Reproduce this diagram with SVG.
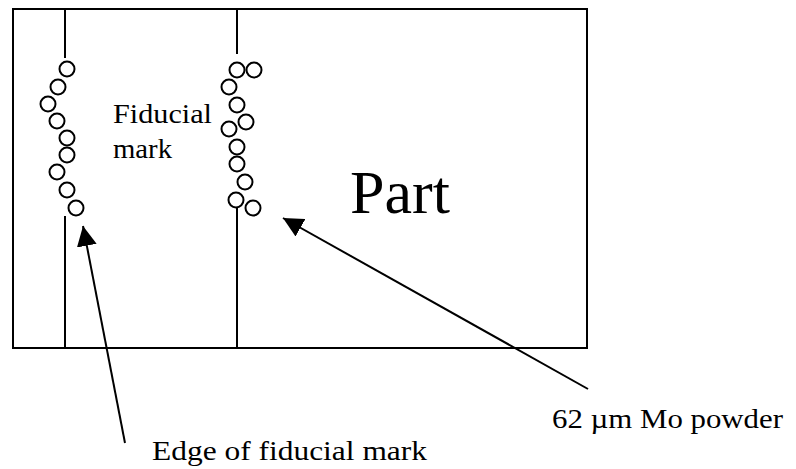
<svg xmlns="http://www.w3.org/2000/svg" width="796" height="469" viewBox="0 0 796 469">
<style>
.ln{stroke:#000;stroke-width:2;fill:none}
.p{stroke:#000;stroke-width:2;fill:#fff}
.t{font-family:"Liberation Serif","Times New Roman",serif;fill:#000}
</style>
<defs>
<marker id="ah" markerUnits="userSpaceOnUse" viewBox="0 -10 20 20" refX="20" refY="0" markerWidth="20" markerHeight="20" orient="auto">
<path d="M0,-10 L20,0 L0,10 z" fill="#000"/>
</marker>
</defs>
<rect width="796" height="469" fill="#fff"/>
<g id="part">
<rect class="ln" x="13" y="9" width="574" height="339"/>
<text class="t" x="350" y="213" font-size="62">Part</text>
</g>
<g id="fiducial-left">
<line class="ln" x1="65" y1="9" x2="65" y2="58"/>
<line class="ln" x1="65" y1="216" x2="65" y2="348"/>
<circle class="p" cx="67" cy="69" r="7.5"/>
<circle class="p" cx="58" cy="87" r="7.5"/>
<circle class="p" cx="48" cy="104" r="7.5"/>
<circle class="p" cx="57" cy="121" r="7.5"/>
<circle class="p" cx="67" cy="138" r="7.5"/>
<circle class="p" cx="67" cy="155" r="7.5"/>
<circle class="p" cx="57" cy="172" r="7.5"/>
<circle class="p" cx="67" cy="190" r="7.5"/>
<circle class="p" cx="76" cy="208" r="7.5"/>
</g>
<g id="fiducial-right">
<line class="ln" x1="237" y1="9" x2="237" y2="54"/>
<line class="ln" x1="237" y1="208" x2="237" y2="348"/>
<circle class="p" cx="237" cy="70" r="7.5"/>
<circle class="p" cx="254" cy="70" r="7.5"/>
<circle class="p" cx="229" cy="87" r="7.5"/>
<circle class="p" cx="246" cy="122" r="7.5"/>
<circle class="p" cx="237" cy="105" r="7.5"/>
<circle class="p" cx="229" cy="129" r="7.5"/>
<circle class="p" cx="237" cy="147" r="7.5"/>
<circle class="p" cx="237" cy="164" r="7.5"/>
<circle class="p" cx="245" cy="182" r="7.5"/>
<circle class="p" cx="253" cy="208" r="7.5"/>
<circle class="p" cx="236" cy="200" r="7.5"/>
</g>
<g id="label-fiducial">
<text class="t" x="113" y="123" font-size="27" textLength="99" lengthAdjust="spacingAndGlyphs">Fiducial</text>
<text class="t" x="113" y="158" font-size="27" textLength="59" lengthAdjust="spacingAndGlyphs">mark</text>
</g>
<g id="label-edge">
<text class="t" x="152" y="460" font-size="27" textLength="275" lengthAdjust="spacingAndGlyphs">Edge of fiducial mark</text>
</g>
<g id="label-powder">
<text class="t" x="552" y="428" font-size="27" textLength="231" lengthAdjust="spacingAndGlyphs">62 µm Mo powder</text>
</g>
<g id="connectors">
<line class="ln" x1="125" y1="443" x2="83" y2="226" marker-end="url(#ah)"/>
<line class="ln" x1="588" y1="389" x2="283" y2="218" marker-end="url(#ah)"/>
</g>
</svg>
